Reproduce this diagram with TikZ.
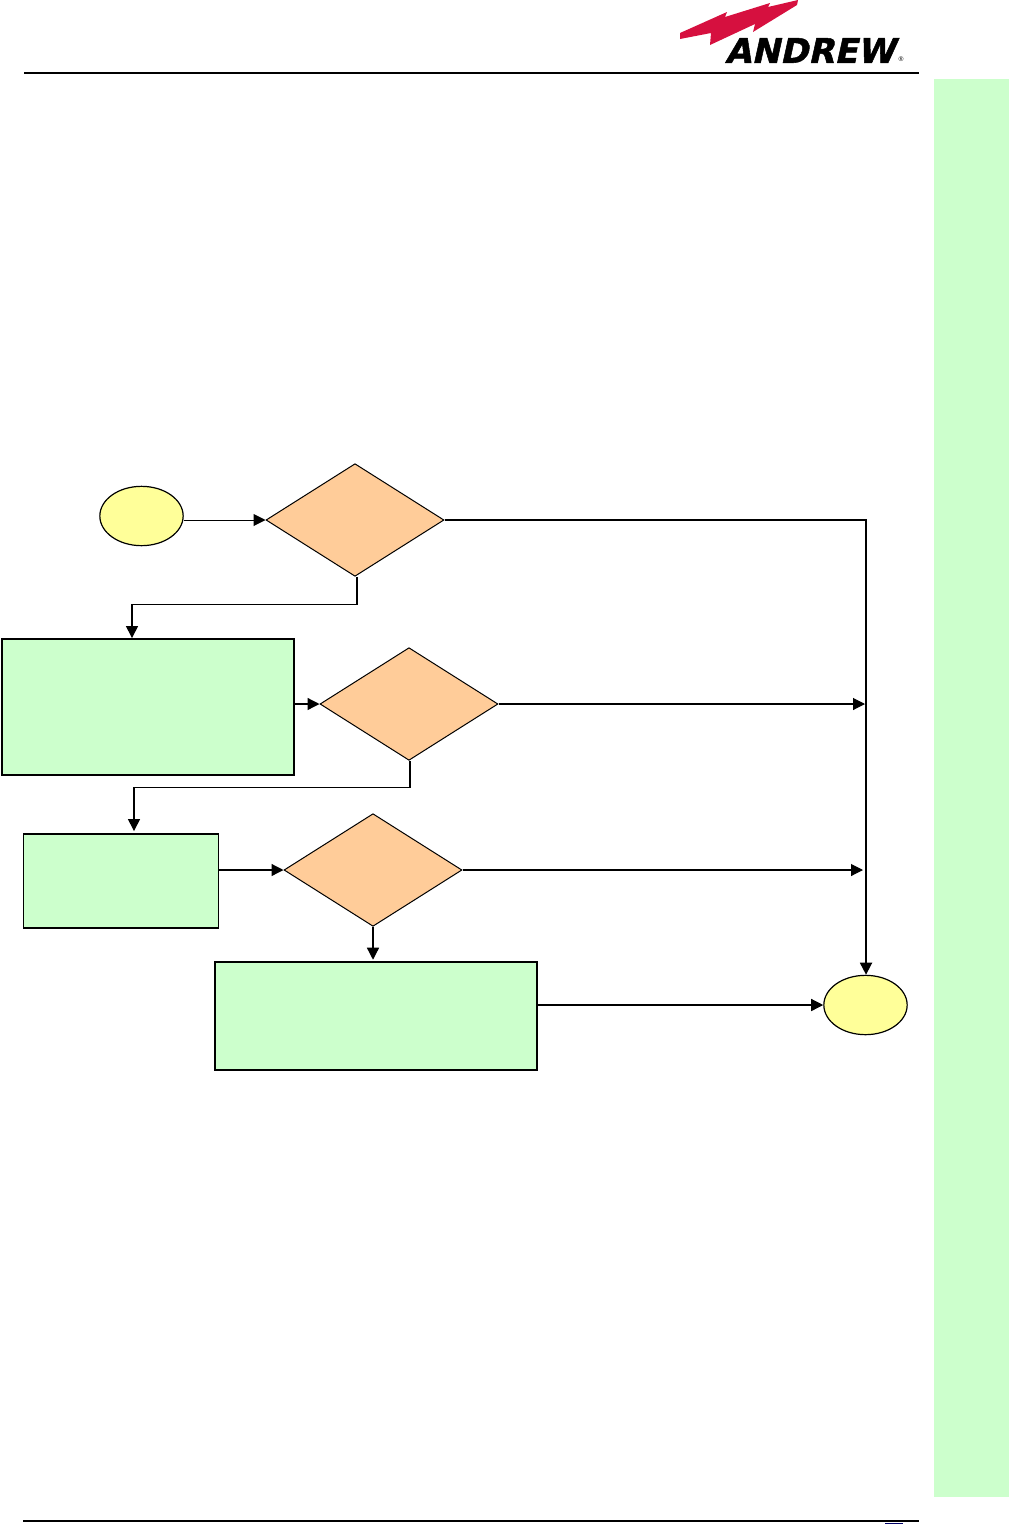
\documentclass[tikz,border=0pt]{standalone}
\usepackage{fontspec}
\setmainfont{Liberation Sans}
\newfontfamily\logofont[FakeBold=1.5,FakeSlant=0.22]{DejaVu Sans}
\usetikzlibrary{arrows.meta,shapes.geometric}
\definecolor{stripgreen}{HTML}{CCFFCC}
\definecolor{startyellow}{HTML}{FFFF99}
\definecolor{testorange}{HTML}{FFCC99}
\definecolor{boltred}{HTML}{D6103F}
\definecolor{tabnavy}{HTML}{000066}
\tikzset{%
  >={Triangle[width=9pt,length=9pt]},
  % Specifications for style of nodes:
  terminal/.style = {ellipse, draw=black, fill=startyellow, line width=0.9pt,
                     inner sep=0pt, minimum width=62.5pt, minimum height=44.5pt},
      test/.style = {diamond, draw=black, fill=testorange, line width=0.75pt,
                     inner sep=0pt, aspect=1.58, minimum width=133.5pt, minimum height=84.5pt},
    action/.style = {rectangle, draw=black, fill=stripgreen, line width=1.4pt, inner sep=0pt},
      flow/.style = {->, line width=0.95pt},
      rule/.style = {black, line width=1.6pt},
}

\begin{document}
\begin{tikzpicture}[x=0.75pt,y=-0.75pt]
  \useasboundingbox (0,0) rectangle (1009,1524);
  % page furniture
  \fill[stripgreen] (934,79) rectangle (1009,1497);
  \draw[rule] (24,73) -- (919,73);
  \draw[rule,line width=1pt] (23,1521) -- (919,1521);
  \fill[tabnavy] (885,1522.5) rectangle (903,1524);
  % logo
  \fill[boltred] (680,33) -- (727,12) -- (725,17) -- (770,3) -- (768,7) -- (798,0)
    -- (797,5) -- (753,32) -- (755,24) -- (710,45) -- (711,33) -- (680,39) -- cycle;
  \node (logo) at (810,50.5) [inner sep=0pt, font=\logofont\bfseries\fontsize{25.5}{25.5}\selectfont] {ANDREW};
  \node (regmark) at (901,59) [inner sep=0pt, font=\fontsize{5}{5}\selectfont] {®};

  % Specification of nodes
  \node (start) at (141.5,516) [terminal] {};
  \node (test1) at (355,520) [test] {};
  \node (test2) at (409,704) [test] {};
  \node (test3) at (373,870) [test] {};
  \node (box1) at (148,707) [action, minimum width=219pt, minimum height=102pt] {};
  \node (box2) at (121,881) [action, minimum width=146.25pt, minimum height=70.5pt] {};
  \node (box3) at (376,1016) [action, minimum width=241.5pt, minimum height=81pt] {};
  \node (stop) at (865.5,1005) [terminal] {};

  \coordinate (join2) at (865,704);
  \coordinate (join3) at (863,870);

  % Specification of lines between nodes
  \draw[flow,line width=0.75pt] (start.east |- test1.west) -- (test1.west);
  \draw[flow,line width=1.3pt] (test1.east) -| ([xshift=0.4pt]stop.north);
  \draw[flow] ([xshift=1.5pt]test1.south) -- ++(0,28) -| ([xshift=-12pt]box1.north);
  \draw[flow] (box1.east |- test2.west) -- (test2.west);
  \draw[flow,line width=0.8pt] (test2.east) -- (join2);
  \draw[flow] ([xshift=0.75pt]test2.south) -- ++(0,27) -| ([xshift=9.75pt,yshift=1.5pt]box2.north);
  \draw[flow] (box2.east |- test3.west) -- (test3.west);
  \draw[flow,line width=0.8pt] (test3.east) -- (join3);
  \draw[flow] (test3.south) -- ([yshift=1pt]test3.south |- box3.north);
  \draw[flow] (box3.east |- stop.west) -- (stop.west);
\end{tikzpicture}
\end{document}
